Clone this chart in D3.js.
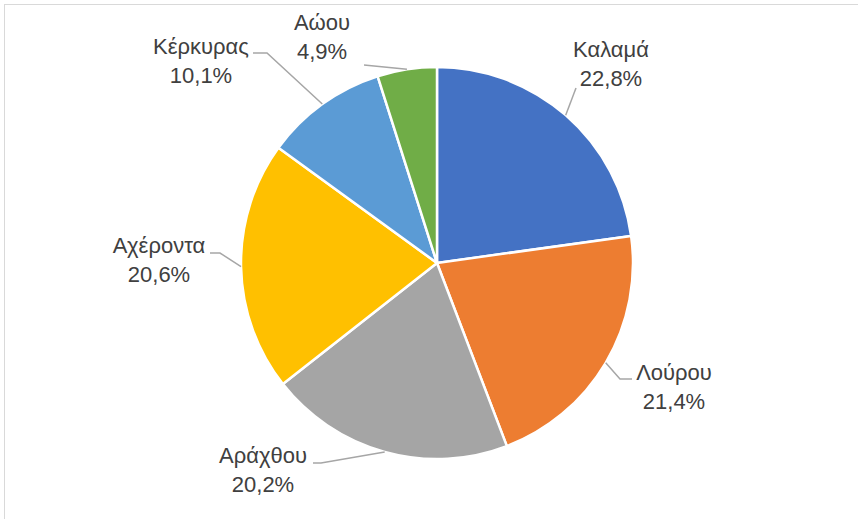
<!DOCTYPE html>
<html>
<head>
<meta charset="utf-8">
<script src="https://cdn.jsdelivr.net/npm/d3@7"></script>
<style>
  html, body { margin: 0; padding: 0; background: #fff; }
  svg { display: block; }
</style>
</head>
<body>
<svg id="chart" width="858" height="519"></svg>
<script>
// ---- data ----
const categories = ["Καλαμά", "Λούρου", "Αράχθου", "Αχέροντα", "Κέρκυρας", "Αώου"];
const values = [22.8, 21.4, 20.2, 20.6, 10.1, 4.9];
const valueLabels = ["22,8%", "21,4%", "20,2%", "20,6%", "10,1%", "4,9%"];
const colors = ["#4472C4", "#ED7D31", "#A5A5A5", "#FFC000", "#5B9BD5", "#70AD47"];

// ---- layout (label placement, not data) ----
// text block: center x, first-line baseline; leader: elbow & end points
const labelLayout = [
  { x: 611, y: 57,  elbow: [576, 88],  end: null },
  { x: 674, y: 380, elbow: [620, 379], end: [632, 379] },
  { x: 263, y: 463, elbow: [321, 463], end: [313, 463] },
  { x: 159, y: 253, elbow: [220, 253], end: [210, 253] },
  { x: 201, y: 54,  elbow: [267, 53],  end: [253, 53] },
  { x: 322, y: 30,  elbow: [364, 65],  end: null }
];

const cx = 437, cy = 263, R = 196;
const svg = d3.select("#chart");

svg.append("rect")
  .attr("x", 4.5).attr("y", 4.5)
  .attr("width", 900).attr("height", 600)
  .attr("fill", "none").attr("stroke", "#d9d9d9").attr("stroke-width", 1);

const pie = d3.pie().sort(null).value(d => d)(values);
const arc = d3.arc().innerRadius(0).outerRadius(R);

const g = svg.append("g").attr("transform", `translate(${cx},${cy})`);
g.selectAll("path.slice").data(pie).join("path")
  .attr("class", "slice")
  .attr("d", arc)
  .attr("fill", (d, i) => colors[i])
  .attr("stroke", "#fff")
  .attr("stroke-width", 2.5)
  .attr("stroke-linejoin", "round");

// leader lines
pie.forEach((d, i) => {
  const a = (d.startAngle + d.endAngle) / 2;
  const p0 = [cx + R * Math.sin(a), cy - R * Math.cos(a)];
  const L = labelLayout[i];
  const pts = [p0, L.elbow];
  if (L.end) pts.push(L.end);
  svg.append("path")
    .attr("d", d3.line()(pts))
    .attr("fill", "none")
    .attr("stroke", "#a6a6a6")
    .attr("stroke-width", 1.5);
});

// labels
const font = "'Liberation Sans', Arial, sans-serif";
categories.forEach((c, i) => {
  const L = labelLayout[i];
  const t = svg.append("text")
    .attr("text-anchor", "middle")
    .attr("font-family", font)
    .attr("font-size", 22)
    .attr("fill", "#404040");
  t.append("tspan").attr("x", L.x).attr("y", L.y).text(c);
  t.append("tspan").attr("x", L.x).attr("y", L.y + 29).text(valueLabels[i]);
});
</script>
</body>
</html>
